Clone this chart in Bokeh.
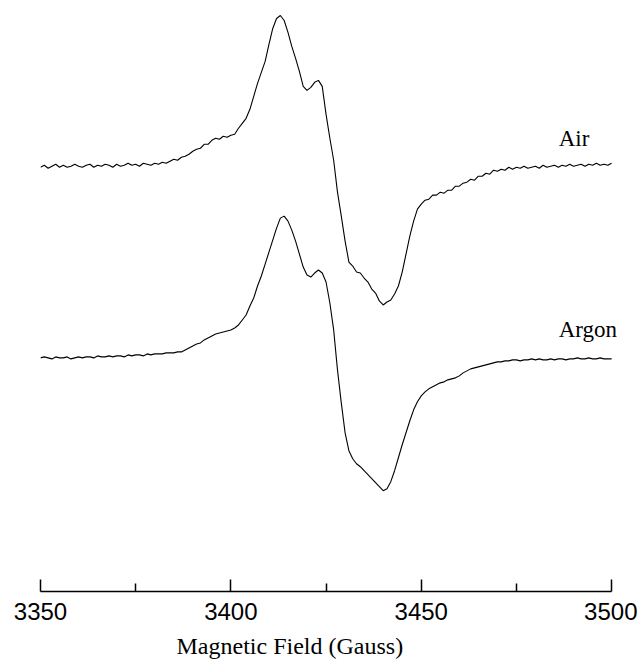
from bokeh.plotting import figure
from bokeh.models import Range1d, FixedTicker, ColumnDataSource, Label, Title
from bokeh.embed import file_html
from bokeh.resources import INLINE

# Magnetic field axis (Gauss), one reading per gauss
field = list(range(3350, 3501))

# First-derivative EPR signal, arbitrary units
air_signal = [
    -1, 1, -2, 0, 2, -1, 1, -1, 0, 2,
    0, -1, 1, 2, -1, 1, 0, 2, 1, -1,
    2, 0, 1, 3, 1, 2, 0, 3, 2, 1,
    3, 2, 4, 3, 5, 7, 6, 9, 10, 12,
    15, 17, 18, 22, 22, 26, 28, 27, 30, 29,
    31, 32, 38, 43, 48, 57, 70, 83, 94, 105,
    122, 138, 148, 151, 146, 134, 120, 108, 95, 80,
    76, 79, 84, 86, 80, 52, 28, 6, -26, -50,
    -75, -96, -100, -106, -107, -112, -116, -123, -127, -135,
    -139, -136, -134, -128, -120, -106, -88, -70, -55, -43,
    -38, -34, -33, -29, -29, -26, -27, -24, -24, -20,
    -20, -17, -16, -13, -14, -10, -10, -7, -8, -4,
    -5, -3, -4, -1, -3, -1, -2, 0, -2, -1,
    0, -2, 1, -1, 0, 1, -1, 1, 0, 2,
    0, 1, 2, 0, 2, 1, 3, 1, 2, 1,
    3,
]

argon_signal = [
    0, 1, 0, -1, 1, 0, 0, 1, -1, 0,
    1, 0, 1, 1, 0, 2, 1, 1, 2, 1,
    2, 2, 1, 3, 2, 3, 3, 2, 4, 3,
    4, 4, 4, 5, 5, 5, 6, 6, 8, 10,
    12, 14, 15, 18, 20, 22, 24, 25, 26, 27,
    28, 30, 33, 38, 43, 52, 60, 72, 82, 94,
    106, 118, 130, 140, 142, 137, 128, 117, 104, 91,
    83, 81, 85, 88, 85, 76, 55, 28, -12, -45,
    -75, -93, -101, -106, -109, -113, -117, -121, -125, -129,
    -133, -131, -124, -113, -100, -87, -75, -63, -52, -44,
    -38, -34, -31, -29, -27, -25, -24, -22, -21, -20,
    -18, -15, -13, -11, -10, -9, -8, -7, -6, -5,
    -4, -4, -3, -3, -2, -2, -3, -2, -2, -1,
    -2, -1, -2, -2, -1, -2, -1, -1, -2, -1,
    -1, 0, -1, -1, 0, -1, -1, 0, -1, -1,
    -1,
]

labels = ["Air", "Argon"]
offsets = [426, 234]          # vertical stacking of the two traces
major_ticks = [3350, 3400, 3450, 3500]
minor_ticks = [3375, 3425, 3475]
x_title = "Magnetic Field (Gauss)"

p = figure(width=637, height=666, output_backend="svg", toolbar_location=None,
           x_range=Range1d(3350, 3506.8), y_range=Range1d(0, 592),
           y_axis_location=None, min_border_left=40, min_border_right=0,
           min_border_top=0, min_border_bottom=74)
p.outline_line_color = None
p.xgrid.visible = False
p.ygrid.visible = False
p.background_fill_color = "white"
p.border_fill_color = "white"

for sig, off in zip([air_signal, argon_signal], offsets):
    src = ColumnDataSource(dict(x=field, y=[v + off for v in sig]))
    p.line("x", "y", source=src, line_color="black", line_width=1.1)

for lab, off in zip(labels, offsets):
    p.add_layout(Label(x=3486.1, y=off + 28, text=lab,
                       text_font="Liberation Serif", text_font_size="23px",
                       text_align="left", text_baseline="alphabetic",
                       text_color="black"))

ax = p.xaxis[0]
ax.ticker = FixedTicker(ticks=major_ticks, minor_ticks=minor_ticks)
ax.bounds = (3350, 3500)
ax.axis_line_color = "black"
ax.axis_line_width = 1.5
ax.major_tick_in = 12
ax.major_tick_out = 0
ax.minor_tick_in = 8
ax.minor_tick_out = 0
ax.major_tick_line_width = 1.5
ax.minor_tick_line_width = 1.5
ax.major_tick_line_color = "black"
ax.minor_tick_line_color = "black"
ax.major_label_text_font = "Liberation Sans"
ax.major_label_text_font_size = "24px"
ax.major_label_text_color = "black"
ax.major_label_standoff = 11

t = Title(text=x_title, align="left", offset=136, standoff=16,
          text_font="Liberation Serif", text_font_size="24px",
          text_font_style="normal", text_color="black")
p.add_layout(t, "below")

open("out.html", "w").write(file_html(p, INLINE))
